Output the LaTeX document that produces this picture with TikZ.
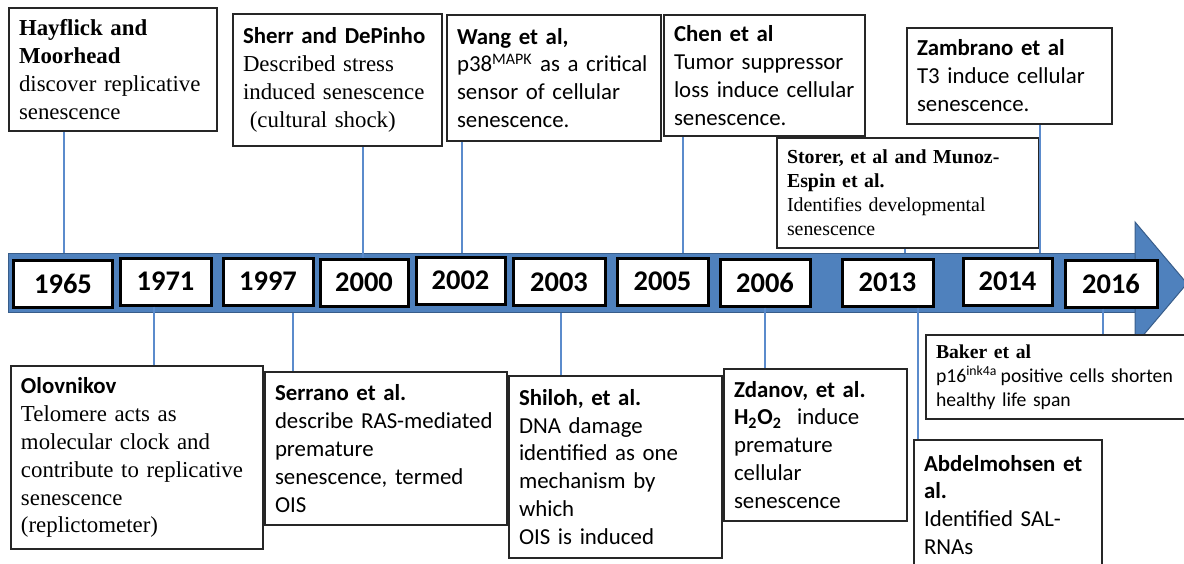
\documentclass[tikz,border=0pt]{standalone}
\usepackage{fontspec}
\setmainfont{Liberation Serif}
\setsansfont{Carlito}
\usepackage{xcolor}
\usepackage{tikz}
\usetikzlibrary{arrows.meta}
\tikzset{>=latex}

\definecolor{bandblue}{RGB}{79,129,189}
\definecolor{bandedge}{RGB}{56,93,138}
\definecolor{linkblue}{RGB}{91,139,204}

\tikzset{
    note/.style={draw=black!85, line width=0.4mm, fill=white, anchor=north west,
        align=left, inner xsep=0.2cm, inner ysep=0,
        font=\sffamily\fontsize{13}{15.9}\selectfont},
    smallnote/.style={note, font=\sffamily\fontsize{11.2}{13.6}\selectfont},
    yearbox/.style={draw=black, line width=0.6mm, fill=white, minimum height=0.94cm,
        inner sep=0, font=\sffamily\bfseries\fontsize{16.2}{18}\selectfont},
    link/.style={draw=linkblue, line width=0.25mm},
}

\begin{document}
\begin{tikzpicture}[]
        \useasboundingbox (0,0) rectangle (23.68,-11.26);
        \clip (0,0) rectangle (23.68,-11.26);

        % time band
        \node[fill=bandblue, draw=bandedge, line width=0.2mm, anchor=north west,
            minimum width=22.6cm, minimum height=1.18cm, inner sep=0] (band) at (0.16,-5.06) {};
        \filldraw[fill=bandblue, draw=bandedge, line width=0.2mm]
            (22.70,-4.44) -- (23.74,-5.67) -- (22.70,-6.90) -- cycle;

        % years
        \node[yearbox, minimum width=1.96cm] (y1965) at (1.26,-5.67) {1965};
        \node[yearbox, minimum width=1.82cm] (y1971) at (3.31,-5.63) {1971};
        \node[yearbox, minimum width=1.80cm] (y1997) at (5.36,-5.63) {1997};
        \node[yearbox, minimum width=1.76cm] (y2000) at (7.28,-5.65) {2000};
        \node[yearbox, minimum width=1.78cm] (y2002) at (9.21,-5.61) {2002};
        \node[yearbox, minimum width=1.84cm] (y2003) at (11.18,-5.64) {2003};
        \node[yearbox, minimum width=1.82cm] (y2005) at (13.25,-5.63) {2005};
        \node[yearbox, minimum width=1.80cm] (y2006) at (15.30,-5.65) {2006};
        \node[yearbox, minimum width=1.82cm] (y2013) at (17.75,-5.65) {2013};
        \node[yearbox, minimum width=1.78cm] (y2014) at (20.15,-5.63) {2014};
        \node[yearbox, minimum width=1.84cm] (y2016) at (22.22,-5.67) {2016};

        % upper notes
        \node[note, text width=3.76cm, minimum height=2.46cm,
            font=\rmfamily\fontsize{13}{15.9}\selectfont] (hay) at (0.16,-0.14)
            {\textbf{Hayflick and}\\ \textbf{Moorhead}\\ discover replicative\\ senescence};
        \node[note, text width=3.78cm, minimum height=2.64cm] (sherr) at (4.64,-0.26)
            {\textbf{Sherr and DePinho}\\ \rmfamily Described stress\\ \rmfamily induced senescence\\
             \rmfamily\hspace*{0.3em}(cultural shock)};
        \node[note, text width=3.88cm, minimum height=2.52cm] (wang) at (8.92,-0.28)
            {\textbf{Wang et al,}\\ p38\textsuperscript{MAPK} as a critical\\ sensor of cellular\\ senescence.};
        \node[note, text width=3.62cm, minimum height=2.42cm] (chen) at (13.26,-0.28)
            {\textbf{Chen et al}\\ Tumor suppressor\\ loss induce cellular\\ senescence.};
        \node[note, text width=3.70cm, minimum height=1.92cm] (zamb) at (18.12,-0.54)
            {\textbf{Zambrano et al}\\ T3 induce cellular\\ senescence.};

        % lower notes
        \node[note, text width=3.36cm, minimum height=2.6cm] (abd) at (18.26,-8.78)
            {\textbf{Abdelmohsen et}\\ \textbf{al.}\\ Identified SAL-\\ RNAs};
        \node[note, text width=4.64cm, minimum height=3.66cm] (olov) at (0.20,-7.30)
            {\textbf{Olovnikov}\\ \rmfamily Telomere acts as\\ \rmfamily molecular clock and\\
             \rmfamily contribute to replicative\\ \rmfamily senescence\\ \rmfamily (replictometer)};
        \node[note, text width=4.44cm, minimum height=3.06cm] (serr) at (5.28,-7.42)
            {\textbf{Serrano et al.}\\ describe RAS-mediated\\ premature\\ senescence, termed\\ OIS};
        \node[note, text width=3.86cm, minimum height=3.64cm] (shil) at (10.16,-7.50)
            {\textbf{Shiloh, et al.}\\ DNA damage\\ identified as one\\ mechanism by\\ which\\ OIS is induced};
        \node[note, text width=3.26cm, minimum height=3.04cm] (zdan) at (14.46,-7.36)
            {\textbf{Zdanov, et al.}\\ \textbf{H\textsubscript{2}O\textsubscript{2}}\ \ induce\\ premature\\ cellular\\ senescence};

        % connectors
        \draw[link] (1.28,0 |- hay.south) -- (1.28,0 |- band.north);
        \draw[link] (7.26,0 |- sherr.south) -- (7.26,0 |- y2000.north);
        \draw[link] (9.24,0 |- wang.south) -- (9.24,0 |- band.north);
        \draw[link] (13.66,0 |- chen.south) -- (13.66,0 |- band.north);
        \draw[link] (20.80,0 |- zamb.south) -- (20.80,0 |- band.north);
        \draw[link] (3.08,0 |- y1971.south) -- (3.08,0 |- olov.north);
        \draw[link] (5.86,0 |- band.south) -- (5.86,0 |- serr.north);
        \draw[link] (11.22,0 |- band.south) -- (11.22,0 |- shil.north);
        \draw[link] (15.30,0 |- y2006.south) -- (15.30,0 |- zdan.north);
        \draw[link] (18.36,0 |- y2013.south) -- (18.36,0 |- abd.north);

        % small notes
        \node[smallnote, text width=4.84cm, minimum height=2.2cm,
            font=\rmfamily\fontsize{11.3}{13.6}\selectfont] (storer) at (15.52,-2.74)
            {\textbf{Storer, et al and Munoz-}\\ \textbf{Espin et al.}\\ Identifies developmental\\ senescence};
        \node[smallnote, text width=4.96cm, minimum height=1.68cm] (baker) at (18.50,-6.68)
            {\textrm{\textbf{Baker et al}}\\ p16\textsuperscript{ink4a}\,positive cells shorten\\ healthy life span};
        \draw[link] (18.10,0 |- storer.south) -- (18.10,0 |- band.north);
        \draw[link] (20.80,0 |- storer.north) -- (20.80,0 |- storer.south);
        \draw[link] (22.06,0 |- y2016.south) -- (22.06,0 |- baker.north);
    \end{tikzpicture}
\end{document}
